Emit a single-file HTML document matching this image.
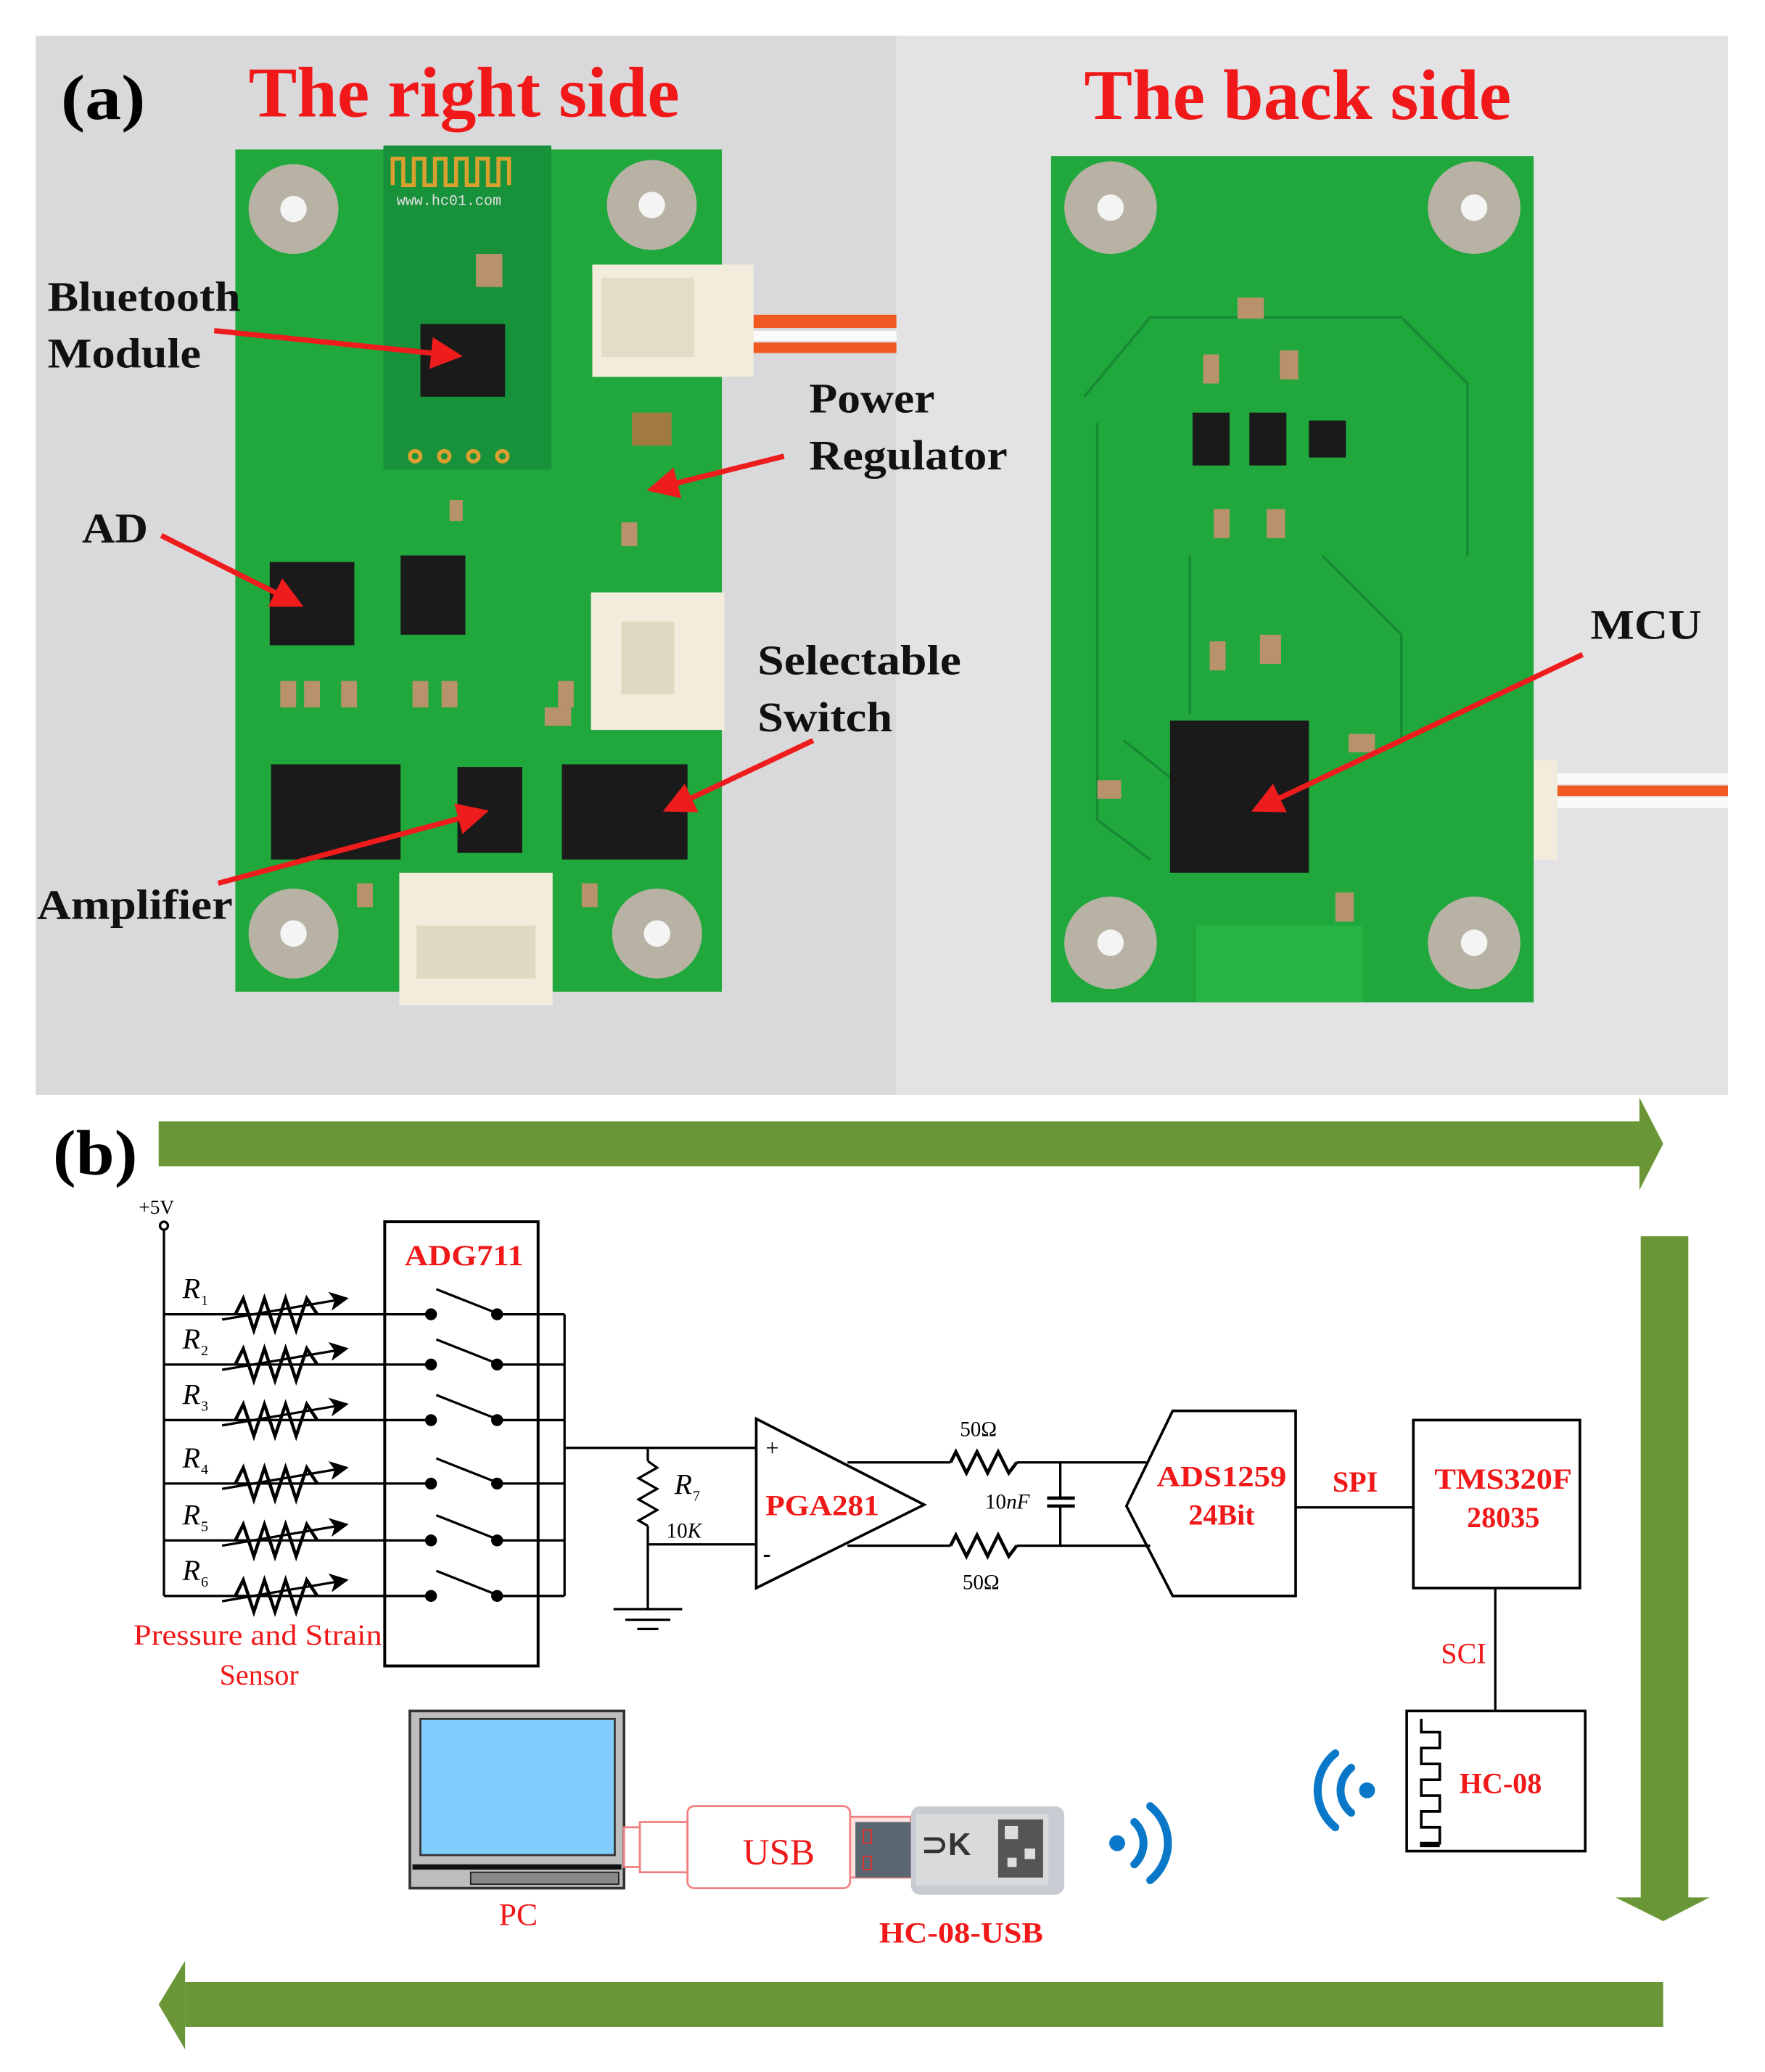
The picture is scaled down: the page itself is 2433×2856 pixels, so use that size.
<!DOCTYPE html>
<html><head><meta charset="utf-8"><style>html,body{margin:0;padding:0;background:#fff}svg{display:block}</style></head>
<body>
<svg width="2433" height="2856" viewBox="0 0 1335 1567" xmlns="http://www.w3.org/2000/svg" font-family="'Liberation Serif', serif">
<defs>
<marker id="ra" markerWidth="6" markerHeight="6" refX="5" refY="3" orient="auto"><path d="M0,0 L6,3 L0,6 z" fill="#ee1c1c"/></marker>
<marker id="ba" markerWidth="8" markerHeight="8" refX="7" refY="4" orient="auto"><path d="M0,0 L8,4 L0,8 L2,4 z" fill="#000"/></marker>
</defs>
<rect width="1335" height="1567" fill="#fff"/>
<rect x="27" y="27" width="651" height="801" fill="#d9d9db"/>
<rect x="678" y="27" width="629" height="801" fill="#e3e3e5"/>
<rect x="560" y="238" width="118" height="10" fill="#f05a22"/><rect x="560" y="250" width="118" height="8" fill="#fafafa"/><rect x="560" y="259" width="118" height="8" fill="#f05a22"/>
<rect x="1170" y="585" width="137" height="8" fill="#fafafa"/><rect x="1170" y="594" width="137" height="8" fill="#f05a22"/><rect x="1170" y="603" width="137" height="8" fill="#fafafa"/>
<rect x="178" y="113" width="368" height="637" fill="#20a83c"/>
<rect x="290" y="110" width="127" height="245" fill="#17913a"/>
<path d="M297,140 v-20 h8 v20 h8 v-20 h8 v20 h8 v-20 h8 v20 h8 v-20 h8 v20 h8 v-20 h8 v20 h8 v-20 h8 v20" fill="none" stroke="#d9a030" stroke-width="3"/>
<text x="300" y="155" font-family="'Liberation Mono',monospace" font-size="11" fill="#e0e0e0">www.hc01.com</text>
<rect x="318" y="245" width="64" height="55" fill="#1a1a1a"/>
<g fill="none" stroke="#d9a030" stroke-width="3"><circle cx="314" cy="345" r="4"/><circle cx="336" cy="345" r="4"/><circle cx="358" cy="345" r="4"/><circle cx="380" cy="345" r="4"/></g>
<rect x="204" y="425" width="64" height="63" fill="#1a1a1a"/>
<rect x="303" y="420" width="49" height="60" fill="#1a1a1a"/>
<rect x="205" y="578" width="98" height="72" fill="#1a1a1a"/>
<rect x="346" y="580" width="49" height="65" fill="#1a1a1a"/>
<rect x="425" y="578" width="95" height="72" fill="#1a1a1a"/>
<rect x="478" y="312" width="30" height="25" fill="#a07a40"/>
<g fill="#b8926a"><rect x="212" y="515" width="12" height="20"/><rect x="230" y="515" width="12" height="20"/><rect x="258" y="515" width="12" height="20"/><rect x="312" y="515" width="12" height="20"/><rect x="334" y="515" width="12" height="20"/><rect x="422" y="515" width="12" height="20"/><rect x="340" y="378" width="10" height="16"/><rect x="470" y="395" width="12" height="18"/><rect x="412" y="535" width="20" height="14"/><rect x="270" y="668" width="12" height="18"/><rect x="440" y="668" width="12" height="18"/><rect x="360" y="192" width="20" height="25"/></g>
<rect x="448" y="200" width="122" height="85" fill="#f2ecdc"/><rect x="455" y="210" width="70" height="60" fill="#e4dcc6"/>
<rect x="447" y="448" width="101" height="104" fill="#f2ecdc"/><rect x="470" y="470" width="40" height="55" fill="#e0d8c0"/>
<rect x="302" y="660" width="116" height="100" fill="#f2ecdc"/><rect x="315" y="700" width="90" height="40" fill="#e0d8c0"/>
<g><circle cx="222" cy="158" r="34" fill="#b8b2a4"/><circle cx="222" cy="158" r="10" fill="#f4f4f4"/>
<circle cx="493" cy="155" r="34" fill="#b8b2a4"/><circle cx="493" cy="155" r="10" fill="#f4f4f4"/>
<circle cx="222" cy="706" r="34" fill="#b8b2a4"/><circle cx="222" cy="706" r="10" fill="#f4f4f4"/>
<circle cx="497" cy="706" r="34" fill="#b8b2a4"/><circle cx="497" cy="706" r="10" fill="#f4f4f4"/></g>
<rect x="1160" y="575" width="18" height="75" fill="#f2ecdc"/>
<rect x="795" y="118" width="365" height="640" fill="#20a83c"/>
<rect x="905" y="700" width="125" height="58" fill="#26b545"/>
<g fill="none" stroke="#178a34" stroke-width="2"><path d="M820,300 L870,240 L1060,240 L1110,290 L1110,420"/><path d="M830,320 L830,620 L870,650"/><path d="M900,420 L900,540"/><path d="M1000,420 L1060,480 L1060,560"/><path d="M850,560 L900,600"/></g>
<rect x="885" y="545" width="105" height="115" fill="#1a1a1a"/>
<rect x="902" y="312" width="28" height="40" fill="#1a1a1a"/><rect x="945" y="312" width="28" height="40" fill="#1a1a1a"/><rect x="990" y="318" width="28" height="28" fill="#1a1a1a"/>
<g fill="#b8926a"><rect x="936" y="225" width="20" height="16"/><rect x="910" y="268" width="12" height="22"/><rect x="968" y="265" width="14" height="22"/><rect x="918" y="385" width="12" height="22"/><rect x="958" y="385" width="14" height="22"/><rect x="915" y="485" width="12" height="22"/><rect x="953" y="480" width="16" height="22"/><rect x="1020" y="555" width="20" height="14"/><rect x="830" y="590" width="18" height="14"/><rect x="1010" y="675" width="14" height="22"/></g>
<g><circle cx="840" cy="157" r="35" fill="#b8b2a4"/><circle cx="840" cy="157" r="10" fill="#f4f4f4"/>
<circle cx="1115" cy="157" r="35" fill="#b8b2a4"/><circle cx="1115" cy="157" r="10" fill="#f4f4f4"/>
<circle cx="840" cy="713" r="35" fill="#b8b2a4"/><circle cx="840" cy="713" r="10" fill="#f4f4f4"/>
<circle cx="1115" cy="713" r="35" fill="#b8b2a4"/><circle cx="1115" cy="713" r="10" fill="#f4f4f4"/></g>
<text x="46" y="90" font-size="48" font-weight="bold" textLength="64" lengthAdjust="spacingAndGlyphs">(a)</text>
<text x="188" y="88" font-size="54" font-weight="bold" fill="#f01818" textLength="326" lengthAdjust="spacingAndGlyphs">The right side</text>
<text x="820" y="90" font-size="54" font-weight="bold" fill="#f01818" textLength="323" lengthAdjust="spacingAndGlyphs">The back side</text>
<g font-size="32" font-weight="bold" fill="#111">
<text x="36" y="235" textLength="146" lengthAdjust="spacingAndGlyphs">Bluetooth</text>
<text x="36" y="278" textLength="116" lengthAdjust="spacingAndGlyphs">Module</text>
<text x="612" y="312" textLength="95" lengthAdjust="spacingAndGlyphs">Power</text>
<text x="612" y="355" textLength="150" lengthAdjust="spacingAndGlyphs">Regulator</text>
<text x="62" y="410" textLength="50" lengthAdjust="spacingAndGlyphs">AD</text>
<text x="573" y="510" textLength="154" lengthAdjust="spacingAndGlyphs">Selectable</text>
<text x="573" y="553" textLength="102" lengthAdjust="spacingAndGlyphs">Switch</text>
<text x="1203" y="483" textLength="84" lengthAdjust="spacingAndGlyphs">MCU</text>
<text x="28" y="695" textLength="148" lengthAdjust="spacingAndGlyphs">Amplifier</text>
</g>
<g stroke="#ee1c1c" stroke-width="4" marker-end="url(#ra)">
<line x1="162" y1="250" x2="346" y2="269"/><line x1="593" y1="345" x2="493" y2="370"/><line x1="122" y1="405" x2="226" y2="457"/>
<line x1="615" y1="560" x2="505" y2="612"/><line x1="165" y1="668" x2="366" y2="614"/><line x1="1197" y1="495" x2="950" y2="612"/>
</g>
<g fill="#6a9637">
<rect x="120" y="848" width="1122" height="34"/><polygon points="1240,830 1258,865 1240,900"/>
<rect x="1241" y="935" width="36" height="502"/><polygon points="1222,1435 1293,1435 1258,1453"/>
<rect x="140" y="1499" width="1118" height="34"/><polygon points="140,1483 120,1516 140,1550"/>
</g>
<text x="40" y="888" font-size="48" font-weight="bold" textLength="64" lengthAdjust="spacingAndGlyphs">(b)</text>
<g stroke="#000" stroke-width="1.8" fill="none">
<circle cx="124" cy="927" r="3"/>
<line x1="124" y1="930" x2="124" y2="1207"/>
<rect x="291" y="924" width="116" height="336" stroke-width="2.2"/>
<line x1="427" y1="994" x2="427" y2="1207"/>
<line x1="427" y1="1095" x2="572" y2="1095"/>
<line x1="490" y1="1095" x2="490" y2="1105"/>
<polyline points="490,1105 497,1110 483,1118 497,1126 483,1134 497,1142 483,1150 490,1154"/>
<line x1="490" y1="1154" x2="490" y2="1217"/>
<line x1="490" y1="1168" x2="572" y2="1168"/>
<line x1="464" y1="1217" x2="516" y2="1217"/><line x1="473" y1="1225" x2="507" y2="1225"/><line x1="482" y1="1232" x2="498" y2="1232"/>
<polygon points="572,1073 572,1201 699,1138" stroke-width="2"/>
</g>
<g font-size="15" fill="#000">
<text x="105" y="918">+5V</text>
<text x="510" y="1130" font-style="italic" font-size="22">R</text><text x="524" y="1135" font-size="11">7</text>
<text x="504" y="1163" font-size="16">10<tspan font-style="italic">K</tspan></text>
<text x="579" y="1101" font-size="18">+</text><text x="577" y="1181" font-size="18" font-weight="bold">-</text>
</g>
<g stroke="#000" stroke-width="1.8" fill="none">
<g transform="translate(0,994)"><line x1="124" y1="0" x2="326" y2="0"/><line x1="376" y1="0" x2="427" y2="0"/><polyline points="178,0 184,-12 192,12 200,-12 208,12 216,-12 224,12 232,-12 240,0" stroke-width="2.5"/><line x1="168" y1="4" x2="262" y2="-12" marker-end="url(#ba)"/><line x1="330" y1="-19" x2="373" y2="-2"/></g>
<g transform="translate(0,1032)"><line x1="124" y1="0" x2="326" y2="0"/><line x1="376" y1="0" x2="427" y2="0"/><polyline points="178,0 184,-12 192,12 200,-12 208,12 216,-12 224,12 232,-12 240,0" stroke-width="2.5"/><line x1="168" y1="4" x2="262" y2="-12" marker-end="url(#ba)"/><line x1="330" y1="-19" x2="373" y2="-2"/></g>
<g transform="translate(0,1074)"><line x1="124" y1="0" x2="326" y2="0"/><line x1="376" y1="0" x2="427" y2="0"/><polyline points="178,0 184,-12 192,12 200,-12 208,12 216,-12 224,12 232,-12 240,0" stroke-width="2.5"/><line x1="168" y1="4" x2="262" y2="-12" marker-end="url(#ba)"/><line x1="330" y1="-19" x2="373" y2="-2"/></g>
<g transform="translate(0,1122)"><line x1="124" y1="0" x2="326" y2="0"/><line x1="376" y1="0" x2="427" y2="0"/><polyline points="178,0 184,-12 192,12 200,-12 208,12 216,-12 224,12 232,-12 240,0" stroke-width="2.5"/><line x1="168" y1="4" x2="262" y2="-12" marker-end="url(#ba)"/><line x1="330" y1="-19" x2="373" y2="-2"/></g>
<g transform="translate(0,1165)"><line x1="124" y1="0" x2="326" y2="0"/><line x1="376" y1="0" x2="427" y2="0"/><polyline points="178,0 184,-12 192,12 200,-12 208,12 216,-12 224,12 232,-12 240,0" stroke-width="2.5"/><line x1="168" y1="4" x2="262" y2="-12" marker-end="url(#ba)"/><line x1="330" y1="-19" x2="373" y2="-2"/></g>
<g transform="translate(0,1207)"><line x1="124" y1="0" x2="326" y2="0"/><line x1="376" y1="0" x2="427" y2="0"/><polyline points="178,0 184,-12 192,12 200,-12 208,12 216,-12 224,12 232,-12 240,0" stroke-width="2.5"/><line x1="168" y1="4" x2="262" y2="-12" marker-end="url(#ba)"/><line x1="330" y1="-19" x2="373" y2="-2"/></g>
</g>
<g fill="#000">
<circle cx="326" cy="994" r="4.5"/><circle cx="376" cy="994" r="4.5"/><circle cx="326" cy="1032" r="4.5"/><circle cx="376" cy="1032" r="4.5"/>
<circle cx="326" cy="1074" r="4.5"/><circle cx="376" cy="1074" r="4.5"/><circle cx="326" cy="1122" r="4.5"/><circle cx="376" cy="1122" r="4.5"/>
<circle cx="326" cy="1165" r="4.5"/><circle cx="376" cy="1165" r="4.5"/><circle cx="326" cy="1207" r="4.5"/><circle cx="376" cy="1207" r="4.5"/>
</g>
<g font-size="22" font-style="italic" fill="#000">
<text x="138" y="982">R</text><text x="138" y="1020">R</text><text x="138" y="1062">R</text><text x="138" y="1110">R</text><text x="138" y="1153">R</text><text x="138" y="1195">R</text>
</g>
<g font-size="11" fill="#000"><text x="152" y="987">1</text><text x="152" y="1025">2</text><text x="152" y="1067">3</text><text x="152" y="1115">4</text><text x="152" y="1158">5</text><text x="152" y="1200">6</text></g>
<g fill="#f01818" font-weight="bold" font-size="22" text-anchor="middle">
<text x="351" y="957" textLength="90" lengthAdjust="spacingAndGlyphs">ADG711</text>
<text x="622" y="1146" textLength="86" lengthAdjust="spacingAndGlyphs">PGA281</text>
<text x="924" y="1124" textLength="98" lengthAdjust="spacingAndGlyphs">ADS1259</text>
<text x="924" y="1153">24Bit</text>
<text x="1025" y="1128">SPI</text>
<text x="1137" y="1126" textLength="104" lengthAdjust="spacingAndGlyphs">TMS320F</text>
<text x="1137" y="1155">28035</text>
<text x="1135" y="1356">HC-08</text>
<text x="727" y="1469" textLength="124" lengthAdjust="spacingAndGlyphs">HC-08-USB</text>
</g>
<g fill="#f01818" font-size="22" text-anchor="middle">
<text x="195" y="1244" textLength="188" lengthAdjust="spacingAndGlyphs">Pressure and Strain</text>
<text x="196" y="1274">Sensor</text>
<text x="1107" y="1258">SCI</text>
<text x="392" y="1456" font-size="24">PC</text>
</g>
<g stroke="#000" stroke-width="1.8" fill="none">
<line x1="641" y1="1106" x2="719" y2="1106"/><polyline points="719,1106 723,1098 731,1114 739,1098 747,1114 755,1098 763,1114 769,1106" stroke-width="2.5"/><line x1="769" y1="1106" x2="867" y2="1106"/>
<line x1="641" y1="1169" x2="719" y2="1169"/><polyline points="719,1169 723,1161 731,1177 739,1161 747,1177 755,1161 763,1177 769,1169" stroke-width="2.5"/><line x1="769" y1="1169" x2="870" y2="1169"/>
<line x1="802" y1="1106" x2="802" y2="1133"/><line x1="802" y1="1139" x2="802" y2="1169"/>
<line x1="792" y1="1133" x2="813" y2="1133" stroke-width="2.5"/><line x1="792" y1="1139" x2="813" y2="1139" stroke-width="2.5"/>
<polygon points="887,1067 980,1067 980,1207 887,1207 852,1139" stroke-width="2"/>
<line x1="980" y1="1140" x2="1069" y2="1140"/>
<rect x="1069" y="1074" width="126" height="127" stroke-width="2"/>
<line x1="1131" y1="1201" x2="1131" y2="1294"/>
<rect x="1064" y="1294" width="135" height="106" stroke-width="2"/>
<polyline points="1075,1300 1075,1310 1089,1310 1089,1322 1075,1322 1075,1334 1089,1334 1089,1346 1075,1346 1075,1358 1089,1358 1089,1370 1075,1370 1075,1382 1089,1382 1089,1394 1075,1394 1075,1396 1089,1396" stroke-width="2"/>
</g>
<g font-size="16" fill="#000" text-anchor="middle">
<text x="740" y="1086">50Ω</text><text x="742" y="1202">50Ω</text>
<text x="762" y="1141">10<tspan font-style="italic">nF</tspan></text>
</g>
<g stroke="#0a78c8" stroke-width="6" fill="none" stroke-linecap="round">
<path d="M1022,1337 A22,22 0 0 0 1022,1371"/><path d="M1010,1326 A36,36 0 0 0 1010,1382"/>
<path d="M858,1378 A22,22 0 0 1 858,1410"/><path d="M870,1366 A36,36 0 0 1 870,1422"/>
</g>
<circle cx="1034" cy="1354" r="6" fill="#0a78c8"/><circle cx="845" cy="1394" r="6" fill="#0a78c8"/>
<rect x="310" y="1294" width="162" height="134" fill="#bdbdbd" stroke="#333" stroke-width="2"/>
<rect x="318" y="1300" width="147" height="103" fill="#80ccfc" stroke="#333" stroke-width="1.5"/>
<rect x="312" y="1410" width="158" height="4" fill="#111"/>
<rect x="356" y="1416" width="112" height="9" fill="#888" stroke="#222"/>
<g stroke="#f08080" stroke-width="1.5" fill="#fff">
<rect x="472" y="1382" width="12" height="30"/>
<rect x="484" y="1378" width="36" height="38"/>
<rect x="520" y="1366" width="123" height="62" rx="5"/>
<rect x="643" y="1374" width="46" height="46" fill="#fde0e0"/>
</g>
<rect x="647" y="1378" width="42" height="42" fill="#5a6670"/>
<rect x="653" y="1384" width="6" height="10" fill="none" stroke="#e03030"/><rect x="653" y="1404" width="6" height="10" fill="none" stroke="#e03030"/>
<rect x="689" y="1366" width="116" height="67" rx="7" fill="#c8ccd2"/>
<rect x="693" y="1372" width="100" height="54" fill="#d8dadc"/>
<text x="697" y="1403" font-family="'Liberation Sans',sans-serif" font-size="24" font-weight="bold" fill="#333">⊃K</text>
<rect x="755" y="1376" width="34" height="44" fill="#555"/><rect x="760" y="1381" width="10" height="10" fill="#ddd"/><rect x="775" y="1398" width="8" height="8" fill="#ddd"/><rect x="762" y="1405" width="7" height="7" fill="#ddd"/>
<text x="589" y="1410" font-size="28" fill="#f01818" text-anchor="middle">USB</text>
</svg>
</body></html>
